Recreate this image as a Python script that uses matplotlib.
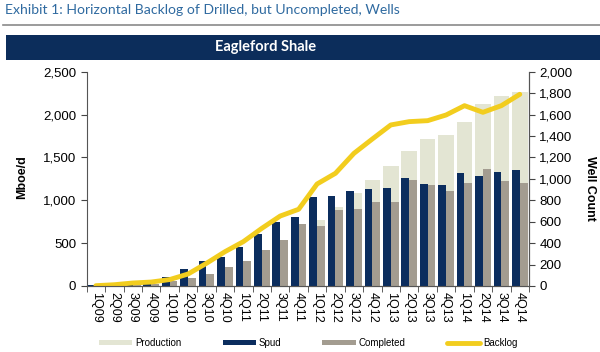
import numpy as np
import matplotlib
matplotlib.use('Agg')
import matplotlib.pyplot as plt
from matplotlib.patches import Rectangle

plt.rcParams['font.family'] = ['Liberation Sans', 'DejaVu Sans']

# Data
quarters = ['1Q09', '2Q09', '3Q09', '4Q09', '1Q10', '2Q10', '3Q10', '4Q10',
            '1Q11', '2Q11', '3Q11', '4Q11', '1Q12', '2Q12', '3Q12', '4Q12',
            '1Q13', '2Q13', '3Q13', '4Q13', '1Q14', '2Q14', '3Q14', '4Q14']
production = [4, 6, 10, 14, 30, 55, 80, 120, 200, 300, 420, 560,
              766, 918, 1084, 1232, 1403, 1578, 1711, 1764, 1916, 2122, 2219, 2262]  # Mboe/d
spud = [10, 15, 20, 25, 85, 161, 233, 266, 367, 485, 600, 647,
        830, 840, 884, 908, 915, 1005, 952, 943, 1058, 1030, 1067, 1083]
completed = [5, 8, 12, 20, 50, 78, 115, 180, 233, 336, 426, 576,
             560, 709, 722, 781, 787, 989, 943, 884, 964, 1092, 983, 964]
backlog = [3, 12, 28, 37, 60, 112, 212, 320, 414, 538, 653, 716,
           952, 1052, 1238, 1372, 1503, 1534, 1543, 1596, 1683, 1621, 1683, 1789]

c_prod = '#e3e5d3'
c_spud = '#0b2d5e'
c_comp = '#a39c90'
c_back = '#f2cd1e'
c_navy = '#0c2d5b'

fig = plt.figure(figsize=(6, 3.52), dpi=100)

# header
fig.text(5 / 600, 1 - 10 / 352, 'Exhibit 1: Horizontal Backlog of Drilled, but Uncompleted, Wells',
         family='Lato', fontsize=10.1, color='#2f6aa0', va='center', ha='left')
fig.add_artist(plt.Line2D([3 / 600, 1], [1 - 25 / 352] * 2, color='#8a8a8a', lw=1.2))
fig.add_artist(Rectangle((6 / 600, 1 - 60 / 352), 1, 25 / 352, color=c_navy, lw=0))
fig.text(266 / 600, 1 - 47.5 / 352, 'Eagleford Shale', family='Lato', fontweight='bold',
         fontsize=10.5, color='white', ha='center', va='center')

ax = fig.add_axes([86.7 / 600, 1 - 286 / 352, 442.3 / 600, 214.3 / 352])
ax2 = ax.twinx()

x = np.arange(len(quarters))
b_prod = ax.bar(x, production, width=0.84, color=c_prod, label='Production')
b_spud = ax2.bar(x - 0.21, spud, width=0.42, color=c_spud, label='Spud')
b_comp = ax2.bar(x + 0.21, completed, width=0.42, color=c_comp, label='Completed')
l_back, = ax2.plot(x, backlog, color=c_back, lw=3.5, solid_capstyle='round', label='Backlog')

ax.set_xlim(-0.5, len(quarters) - 0.5)
ax.set_ylim(0, 2500)
ax2.set_ylim(0, 2000)
ax.set_yticks(np.arange(0, 2501, 500))
ax2.set_yticks(np.arange(0, 2001, 200))
ax.set_yticklabels([f'{v:,}' for v in range(0, 2501, 500)])
ax2.set_yticklabels([f'{v:,}' for v in range(0, 2001, 200)])

ax.set_xticks(x)
ax.set_xticklabels(quarters, rotation=-90, fontsize=9)
ax.set_xticks(np.arange(-0.5, len(quarters), 1), minor=True)
ax.tick_params(axis='x', which='major', length=0, pad=4)
ax.tick_params(axis='x', which='minor', length=4, color='#444444')
ax.tick_params(axis='y', labelsize=9.5, length=4, color='#444444')
ax2.tick_params(axis='y', labelsize=9.5, length=4, color='#444444')

for a in (ax, ax2):
    a.spines['top'].set_visible(False)
    for s in ('left', 'right', 'bottom'):
        a.spines[s].set_color('#555555')
ax2.spines['left'].set_visible(False)

fig.text(22 / 600, 1 - 177 / 352, 'Mboe/d', rotation=90, fontweight='bold', fontsize=9,
         ha='center', va='center')
fig.text(590 / 600, 1 - 188 / 352, 'Well Count', rotation=-90, fontweight='bold', fontsize=9,
         ha='center', va='center')

fig.legend([b_prod, b_spud, b_comp, l_back], ['Production', 'Spud', 'Completed', 'Backlog'],
           loc='center left', bbox_to_anchor=(99 / 600, 1 - 343 / 352),
           ncol=4, frameon=False, fontsize=7, handlelength=3.4, handleheight=0.5,
           handletextpad=0.35, columnspacing=4.2, borderpad=0, borderaxespad=0)

fig.savefig('out.png', dpi=100)
